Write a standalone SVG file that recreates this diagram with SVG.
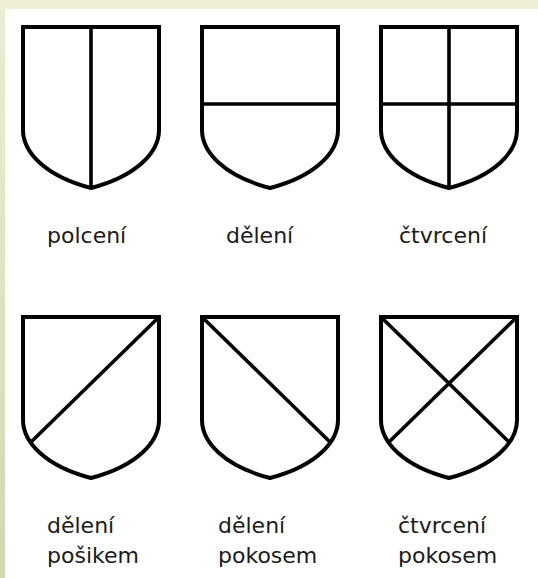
<svg xmlns="http://www.w3.org/2000/svg" width="538" height="578" viewBox="0 0 538 578">
  <defs>
    <linearGradient id="side" x1="0" y1="0" x2="0" y2="1">
      <stop offset="0" stop-color="#ececd2"/>
      <stop offset="1" stop-color="#d6d6b3"/>
    </linearGradient>
    <path id="shield" d="M0,0 L136,0 L136,103 C136,125 114,149 68,161 C22,149 0,125 0,103 Z"/>
  </defs>
  <style>
    .outline { fill: #ffffff; stroke: #000000; stroke-width: 4; stroke-linejoin: miter; }
    .div { stroke: #000000; stroke-width: 3.6; fill: none; }
    .lbl { font-family: "DejaVu Sans", "Liberation Sans", sans-serif; font-size: 22px; fill: #1a1a1a; }
  </style>
  <rect x="0" y="0" width="538" height="578" fill="#ffffff"/>
  <rect x="0" y="0" width="538" height="9" fill="#efefd6"/>
  <rect x="0" y="9" width="5" height="569" fill="url(#side)"/>

  <g id="polceni" transform="translate(23,27)">
    <use href="#shield" class="outline"/>
    <line class="div" x1="68" y1="0" x2="68" y2="161"/>
  </g>
  <g id="deleni" transform="translate(202,27)">
    <use href="#shield" class="outline"/>
    <line class="div" x1="0" y1="77" x2="136" y2="77"/>
  </g>
  <g id="ctvrceni" transform="translate(381,27)">
    <use href="#shield" class="outline"/>
    <line class="div" x1="68" y1="0" x2="68" y2="161"/>
    <line class="div" x1="0" y1="77" x2="136" y2="77"/>
  </g>
  <g id="deleni-posikem" transform="translate(23,317)">
    <use href="#shield" class="outline"/>
    <line class="div" x1="136" y1="0" x2="7.5" y2="125.5"/>
  </g>
  <g id="deleni-pokosem" transform="translate(202,317)">
    <use href="#shield" class="outline"/>
    <line class="div" x1="0" y1="0" x2="128.5" y2="125.5"/>
  </g>
  <g id="ctvrceni-pokosem" transform="translate(381,317)">
    <use href="#shield" class="outline"/>
    <line class="div" x1="136" y1="0" x2="7.5" y2="125.5"/>
    <line class="div" x1="0" y1="0" x2="128.5" y2="125.5"/>
  </g>

  <g id="labels">
    <text class="lbl" x="47" y="243">polcení</text>
    <text class="lbl" x="226" y="243">dělení</text>
    <text class="lbl" x="399" y="243">čtvrcení</text>
    <text class="lbl" x="47" y="533">dělení</text>
    <text class="lbl" x="47" y="563">pošikem</text>
    <text class="lbl" x="218" y="533">dělení</text>
    <text class="lbl" x="218" y="563">pokosem</text>
    <text class="lbl" x="398" y="533">čtvrcení</text>
    <text class="lbl" x="398" y="563">pokosem</text>
  </g>
</svg>
